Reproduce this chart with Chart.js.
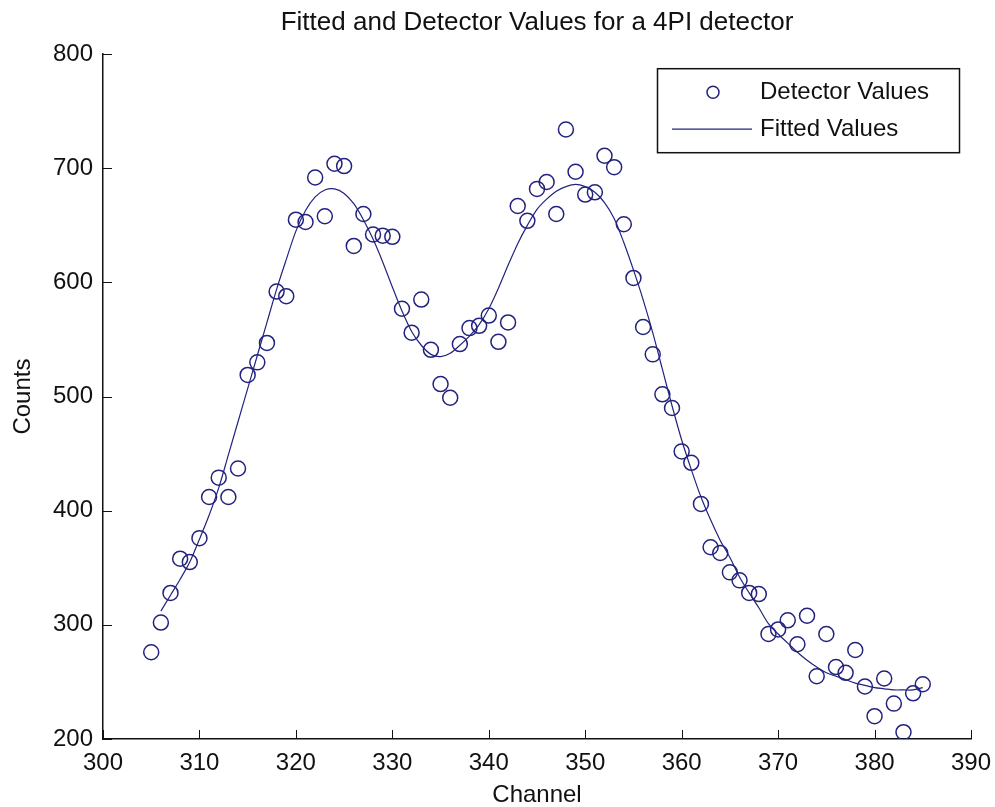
<!DOCTYPE html>
<html>
<head>
<meta charset="utf-8">
<script src="https://cdn.jsdelivr.net/npm/chart.js@4.4.1/dist/chart.umd.min.js"></script>
<style>
  html, body { margin: 0; padding: 0; background: #fff; }
  #wrap { width: 995px; height: 807px; }
</style>
</head>
<body>
<div id="wrap"><canvas id="grafico" width="995" height="807"></canvas></div>
<script>
// canais medidos
const channels = [
    305, 306, 307, 308, 309, 310, 311, 312, 313, 314,
    315, 316, 317, 318, 319, 320, 321, 322, 323, 324,
    325, 326, 327, 328, 329, 330, 331, 332, 333, 334,
    335, 336, 337, 338, 339, 340, 341, 342, 343, 344,
    345, 346, 347, 348, 349, 350, 351, 352, 353, 354,
    355, 356, 357, 358, 359, 360, 361, 362, 363, 364,
    365, 366, 367, 368, 369, 370, 371, 372, 373, 374,
    375, 376, 377, 378, 379, 380, 381, 382, 383, 384,
    385
];

// contagens do detector
const detectorValues = [
    276, 302, 328, 358, 355, 376, 412, 429, 412, 437,
    519, 530, 547, 592, 588, 655, 653, 692, 658, 704,
    702, 632, 660, 642, 641, 640, 577, 556, 585, 541,
    511, 499, 546, 560, 562, 571, 548, 565, 667, 654,
    682, 688, 660, 734, 697, 677, 679, 711, 701, 651,
    604, 561, 537, 502, 490, 452, 442, 406, 368, 363,
    346, 339, 328, 327, 292, 296, 304, 283, 308, 255,
    292, 263, 258, 278, 246, 220, 253, 231, 206, 240,
    248
];

// curva ajustada (começa no canal 306)
const fitChannels = channels.slice(1);
const fittedValues = [
    312, 326, 340, 355, 375, 396, 420, 449, 478,
    507, 536, 565, 594, 620, 645, 663, 675, 681, 682,
    678, 669, 655, 638, 618, 596, 575, 557, 545, 537,
    535, 538, 545, 553, 563, 577, 595, 615, 634, 650,
    664, 673, 680, 684, 686, 684, 679, 670, 656, 635,
    611, 585, 556, 524, 492, 462, 436, 412, 392, 374,
    359, 342, 328, 315, 301, 292, 284, 276, 269, 263,
    258, 255, 252, 249, 247, 245, 244, 243, 243, 243,
    245
];

const xTicks = [300, 310, 320, 330, 340, 350, 360, 370, 380, 390];
const yTicks = [200, 300, 400, 500, 600, 700, 800];

const azul = '#23237f';
const fonte = 'Arial, "Liberation Sans", sans-serif';

// ticks para dentro + legenda com moldura (estilo MATLAB)
const estiloMatlab = {
    id: 'estiloMatlab',
    afterDraw(chart) {
        const ctx = chart.ctx;
        const area = chart.chartArea;
        const sx = chart.scales.x;
        const sy = chart.scales.y;
        const len = 9;

        ctx.save();
        ctx.strokeStyle = '#111';
        ctx.lineWidth = 1;
        ctx.beginPath();
        xTicks.forEach(v => {
            const px = Math.round(sx.getPixelForValue(v)) + 0.5;
            ctx.moveTo(px, area.bottom);
            ctx.lineTo(px, area.bottom - len);
        });
        yTicks.forEach(v => {
            const py = Math.round(sy.getPixelForValue(v)) + 0.5;
            ctx.moveTo(area.left, py);
            ctx.lineTo(area.left + len, py);
        });
        ctx.stroke();

        // legenda
        const ds = chart.data.datasets;
        const bx = area.right - 314;
        const by = area.top + 14;
        const bw = 302;
        const bh = 84;
        ctx.fillStyle = '#fff';
        ctx.fillRect(bx, by, bw, bh);
        ctx.strokeStyle = '#111';
        ctx.lineWidth = 1.5;
        ctx.strokeRect(bx + 0.5, by + 0.5, bw, bh);

        const y1 = by + 24;
        const y2 = by + 61;
        ctx.strokeStyle = azul;
        ctx.lineWidth = 1.5;
        ctx.beginPath();
        ctx.arc(bx + 56, y1, 6, 0, Math.PI * 2);
        ctx.stroke();

        ctx.lineWidth = 1.2;
        ctx.beginPath();
        ctx.moveTo(bx + 15, y2);
        ctx.lineTo(bx + 95, y2);
        ctx.stroke();

        ctx.fillStyle = '#111';
        ctx.font = '24px ' + fonte;
        ctx.textBaseline = 'middle';
        ctx.textAlign = 'left';
        ctx.fillText(ds[0].label, bx + 103, y1);
        ctx.fillText(ds[1].label, bx + 103, y2);
        ctx.restore();
    }
};

const ctx = document.getElementById('grafico').getContext('2d');
new Chart(ctx, {
    type: 'scatter',
    data: {
        datasets: [
            {
                label: 'Detector Values',
                data: channels.map((c, i) => ({ x: c, y: detectorValues[i] })),
                showLine: false,
                pointStyle: 'circle',
                pointRadius: 7.5,
                pointBorderWidth: 1.5,
                pointBorderColor: azul,
                pointBackgroundColor: 'rgba(0,0,0,0)',
                order: 1
            },
            {
                label: 'Fitted Values',
                type: 'line',
                data: fitChannels.map((c, i) => ({ x: c, y: fittedValues[i] })),
                borderColor: azul,
                borderWidth: 1.2,
                pointRadius: 0,
                tension: 0.3,
                fill: false,
                order: 2
            }
        ]
    },
    options: {
        responsive: false,
        animation: false,
        layout: { padding: 0 },
        plugins: {
            legend: { display: false },
            tooltip: { enabled: false },
            title: {
                display: true,
                fullSize: false,
                text: 'Fitted and Detector Values for a 4PI detector',
                color: '#111',
                font: { size: 26, family: fonte, weight: 'normal', lineHeight: 1.2 },
                padding: { top: 7, bottom: 16 }
            }
        },
        scales: {
            x: {
                type: 'linear',
                min: 300,
                max: 390,
                afterBuildTicks: scale => { scale.ticks = xTicks.map(v => ({ value: v })); },
                afterFit: scale => {
                    scale.height = 68;
                    scale.paddingRight = 24;
                },
                grid: { display: false, drawTicks: false },
                border: { display: true, color: '#111', width: 1.5 },
                ticks: {
                    color: '#111',
                    font: { size: 24, family: fonte },
                    padding: 10,
                    maxRotation: 0
                },
                title: {
                    display: true,
                    text: 'Channel',
                    color: '#111',
                    font: { size: 24, family: fonte, lineHeight: 1 },
                    padding: { top: 0, bottom: 0 }
                }
            },
            y: {
                type: 'linear',
                min: 200,
                max: 800,
                afterBuildTicks: scale => { scale.ticks = yTicks.map(v => ({ value: v })); },
                afterFit: scale => { scale.width = 103; },
                grid: { display: false, drawTicks: false },
                border: { display: true, color: '#111', width: 1.5 },
                ticks: {
                    color: '#111',
                    font: { size: 24, family: fonte },
                    padding: 10
                },
                title: {
                    display: true,
                    text: 'Counts',
                    color: '#111',
                    font: { size: 24, family: fonte, lineHeight: 1.2 },
                    padding: { top: 9, bottom: 0 }
                }
            }
        }
    },
    plugins: [estiloMatlab]
});
</script>
</body>
</html>
